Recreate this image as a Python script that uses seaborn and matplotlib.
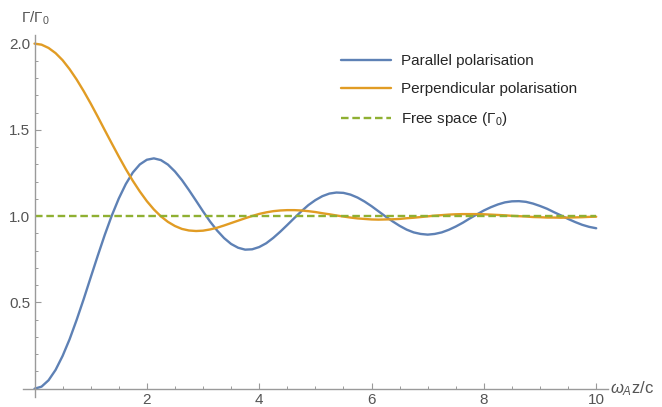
import numpy as np
import pandas as pd
import matplotlib
matplotlib.use("Agg")
import matplotlib.pyplot as plt
import seaborn as sns
from matplotlib.ticker import MultipleLocator

# ---- data ----
x_vals = [i * 0.125 for i in range(81)]
parallel = [0.000, 0.012, 0.049, 0.109, 0.190, 0.287, 0.399, 0.519, 0.645, 0.770,
            0.891, 1.003, 1.102, 1.186, 1.253, 1.300, 1.327, 1.335, 1.325, 1.299,
            1.259, 1.209, 1.151, 1.090, 1.028, 0.969, 0.917, 0.873, 0.839, 0.817,
            0.806, 0.808, 0.821, 0.843, 0.874, 0.910, 0.949, 0.989, 1.028, 1.064,
            1.093, 1.116, 1.131, 1.137, 1.135, 1.125, 1.108, 1.085, 1.058, 1.028,
            0.998, 0.970, 0.944, 0.922, 0.906, 0.897, 0.893, 0.897, 0.906, 0.921,
            0.940, 0.962, 0.987, 1.010, 1.033, 1.052, 1.068, 1.080, 1.086, 1.087,
            1.083, 1.073, 1.059, 1.043, 1.023, 1.004, 0.984, 0.966, 0.950, 0.938,
            0.930]
perpendicular = [2.000, 1.994, 1.975, 1.945, 1.904, 1.852, 1.792, 1.725, 1.653, 1.577,
                 1.499, 1.422, 1.346, 1.273, 1.205, 1.143, 1.087, 1.039, 0.999, 0.967,
                 0.943, 0.926, 0.917, 0.914, 0.916, 0.923, 0.933, 0.946, 0.960, 0.974,
                 0.988, 1.001, 1.013, 1.022, 1.029, 1.033, 1.035, 1.035, 1.033, 1.029,
                 1.024, 1.017, 1.011, 1.004, 0.998, 0.992, 0.987, 0.984, 0.981, 0.980,
                 0.981, 0.982, 0.984, 0.988, 0.991, 0.995, 0.999, 1.003, 1.006, 1.009,
                 1.011, 1.012, 1.012, 1.012, 1.011, 1.009, 1.007, 1.005, 1.002, 1.000,
                 0.998, 0.995, 0.994, 0.992, 0.992, 0.991, 0.992, 0.993, 0.994, 0.996,
                 0.997]
free_space = [1.0] * len(x_vals)

series_names = ["Parallel polarisation", "Perpendicular polarisation", "Free space (Γ$_0$)"]
colors = ["#5E81B5", "#E19C24", "#8FB032"]
x_ticks = [2, 4, 6, 8, 10]
x_ticklabels = ["2", "4", "6", "8", "10"]
y_ticks = [0.5, 1.0, 1.5, 2.0]
y_ticklabels = ["0.5", "1.0", "1.5", "2.0"]

df = pd.DataFrame({
    "x": x_vals * 3,
    "y": parallel + perpendicular + free_space,
    "series": [series_names[0]] * len(x_vals) + [series_names[1]] * len(x_vals)
              + [series_names[2]] * len(x_vals),
})

sns.set_style("white")
plt.rcParams["font.family"] = ["Liberation Sans", "DejaVu Sans"]
plt.rcParams["mathtext.fontset"] = "custom"
plt.rcParams["mathtext.rm"] = "Liberation Sans"
plt.rcParams["mathtext.it"] = "Liberation Sans:italic"

W, H = 662, 407
fig = plt.figure(figsize=(W / 100, H / 100), dpi=100)
ax = fig.add_axes([23 / W, 1 - 397 / H, (608 - 23) / W, (397 - 35) / H])

sns.lineplot(data=df, x="x", y="y", hue="series", style="series",
             palette=dict(zip(series_names, colors)),
             dashes={series_names[0]: "", series_names[1]: "",
                     series_names[2]: (3.2, 1.6)},
             linewidth=1.7, ax=ax, legend=True, sort=False)

ax.set_xlim(-0.205, 10.21)
ax.set_ylim(-0.048, 2.05)

grey = "#9a9a9a"
tcol = "#555555"
for s in ["top", "right"]:
    ax.spines[s].set_visible(False)
for s in ["left", "bottom"]:
    ax.spines[s].set_position(("data", 0))
    ax.spines[s].set_color(grey)
    ax.spines[s].set_linewidth(1.0)
ax.spines["left"].set_bounds(-0.048, 2.05)
ax.spines["bottom"].set_bounds(-0.205, 10.21)

ax.xaxis.set_minor_locator(MultipleLocator(0.5))
ax.yaxis.set_minor_locator(MultipleLocator(0.1))
ax.set_xticks(x_ticks)
ax.set_xticklabels(x_ticklabels)
ax.set_yticks(y_ticks)
ax.set_yticklabels(y_ticklabels)
ax.tick_params(axis="both", which="major", direction="in", length=4.5, width=0.8,
               color=grey, labelcolor=tcol, labelsize=11, pad=3,
               left=True, bottom=True)
ax.tick_params(axis="both", which="minor", direction="in", length=2.5, width=0.7,
               color=grey, left=True, bottom=True)
ax.tick_params(axis="x", which="major", pad=3.2)
ax.set_xlabel("")
ax.set_ylabel("")

fig.text(21 / W, 1 - 18 / H, "Γ/Γ$_0$", color=tcol, fontsize=11, va="center", ha="left")
fig.text(610 / W, 1 - 389 / H, r"$\omega_A$z/c", color=tcol, fontsize=12,
         va="center", ha="left")

handles, labels = ax.get_legend_handles_labels()
leg = ax.legend(handles, labels, loc="upper left",
                bbox_to_anchor=(341 / W, 1 - 54 / H), bbox_transform=fig.transFigure,
                frameon=False, fontsize=11, handlelength=3.27, handletextpad=0.65,
                labelspacing=0.92, borderpad=0, borderaxespad=0)
for line in leg.get_lines():
    line.set_linewidth(1.7)

fig.savefig("out.png", dpi=100, facecolor="white")
